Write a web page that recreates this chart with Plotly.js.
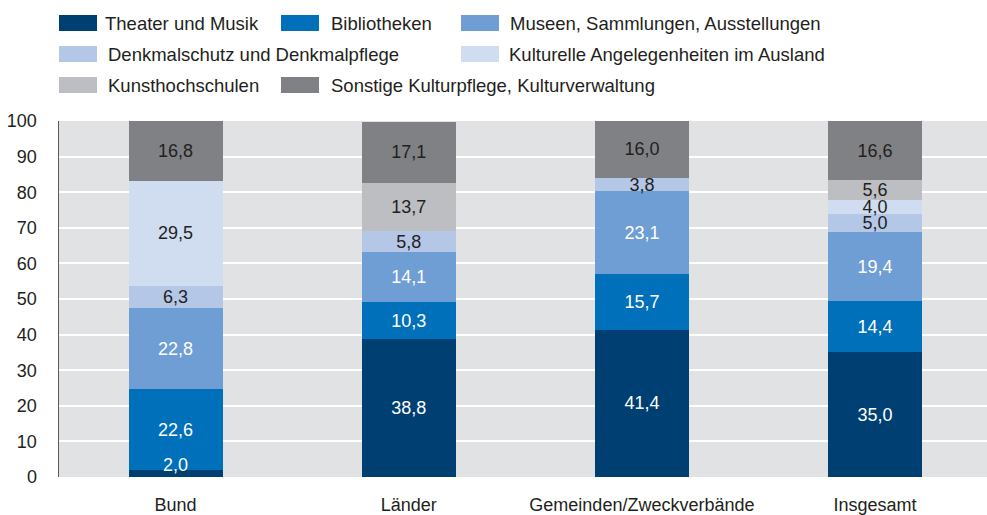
<!DOCTYPE html>
<html><head><meta charset="utf-8">
<script src="https://cdn.plot.ly/plotly-3.0.1.min.js"></script>
<style>body{margin:0;background:#fff}#chart{width:987px;height:515px}</style>
</head><body><div id="chart"></div>
<script>
const categories = ['Bund', 'Länder', 'Gemeinden/Zweckverbände', 'Insgesamt'];
const seriesNames = ['Theater und Musik', 'Bibliotheken', 'Museen, Sammlungen, Ausstellungen',
  'Denkmalschutz und Denkmalpflege', 'Kulturelle Angelegenheiten im Ausland',
  'Kunsthochschulen', 'Sonstige Kulturpflege, Kulturverwaltung'];
const theater = [2.0, 38.8, 41.4, 35.0];
const bibliotheken = [22.6, 10.3, 15.7, 14.4];
const museen = [22.8, 14.1, 23.1, 19.4];
const denkmal = [6.3, 5.8, 3.8, 5.0];
const ausland = [29.5, 0, 0, 4.0];
const kunsthochschulen = [0, 13.7, 0, 5.6];
const sonstige = [16.8, 17.1, 16.0, 16.6];
const yTicks = [0, 10, 20, 30, 40, 50, 60, 70, 80, 90, 100];

const seriesValues = [theater, bibliotheken, museen, denkmal, ausland, kunsthochschulen, sonstige];
const colors = ['#003F72', '#0070BA', '#6E9ED4', '#B4C7E7', '#D0DCEF', '#BDBEC1', '#808184'];
const textColors = ['#ffffff', '#ffffff', '#ffffff', '#231F20', '#231F20', '#231F20', '#231F20'];
const FONT = 'Liberation Sans, Arial, sans-serif';
const DARK = '#231F20';
const fmt = v => v.toFixed(1).replace('.', ',');
const SMALL = 3; // segments thinner than this get their label as an annotation on top

const annotations = [];
const base = categories.map(() => 0);
const traces = seriesValues.map((vals, i) => {
  const txt = vals.map((v, j) => {
    let t = v ? fmt(v) : '';
    if (v && v < SMALL) {
      annotations.push({xref: 'x', yref: 'y', x: categories[j], y: base[j],
        yanchor: 'bottom', xanchor: 'center', yshift: 0, showarrow: false,
        text: t, font: {family: FONT, size: 18, color: textColors[i]}});
      t = '';
    }
    base[j] += v;
    return t;
  });
  return {
    type: 'bar',
    name: seriesNames[i],
    x: categories,
    y: vals,
    text: txt,
    textposition: 'inside',
    insidetextanchor: 'middle',
    constraintext: 'none',
    cliponaxis: false,
    textfont: {family: FONT, size: 18, color: textColors[i]},
    marker: {color: colors[i], line: {width: 0}},
    hoverinfo: 'skip',
    showlegend: false
  };
});

// plot area in pixels
const L = 59, R = 987, T = 121, B = 477;
const px = x => (x - L) / (R - L);
const py = y => (B - y) / (B - T);

// manual legend placement (swatch x, text x, row y)
const legendPos = [
  {sx: 59, tx: 104, y: 23},
  {sx: 281, tx: 330, y: 23},
  {sx: 461, tx: 509, y: 23},
  {sx: 59, tx: 107, y: 54},
  {sx: 461, tx: 508, y: 54},
  {sx: 59, tx: 107, y: 85},
  {sx: 281, tx: 330, y: 85}
];
const shapes = [];
legendPos.forEach((p, i) => {
  shapes.push({type: 'rect', xref: 'paper', yref: 'paper',
    x0: px(p.sx), x1: px(p.sx + 38), y0: py(p.y + 8), y1: py(p.y - 8),
    fillcolor: colors[i], line: {width: 0}});
  annotations.push({xref: 'paper', yref: 'paper', x: px(p.tx), y: py(p.y),
    xanchor: 'left', yanchor: 'middle', showarrow: false, text: seriesNames[i],
    borderpad: 0,
    font: {family: FONT, size: 18.5, color: DARK}});
});

const layout = {
  width: 987, height: 515,
  margin: {l: L, r: 987 - R, t: T, b: 515 - B, pad: 0},
  paper_bgcolor: '#ffffff',
  plot_bgcolor: '#E1E2E4',
  barmode: 'stack',
  bargap: 0.597,
  showlegend: false,
  hovermode: false,
  font: {family: FONT, size: 18, color: DARK},
  xaxis: {
    type: 'category', range: [-0.5, 3.48], showgrid: false, zeroline: false,
    showline: false, ticks: '', ticklabelstandoff: 15,
    tickfont: {family: FONT, size: 18, color: DARK}, fixedrange: true
  },
  yaxis: {
    range: [0, 100], tickvals: yTicks, ticktext: yTicks.map(String),
    showgrid: true, gridcolor: '#ffffff', gridwidth: 2, zeroline: false,
    showline: true, linecolor: '#58595B', linewidth: 1.5,
    ticks: '', ticklabelstandoff: 17,
    tickfont: {family: FONT, size: 18, color: DARK}, fixedrange: true
  },
  shapes: shapes,
  annotations: annotations
};

Plotly.newPlot('chart', traces, layout, {displayModeBar: false, staticPlot: true});
</script>
</body></html>
